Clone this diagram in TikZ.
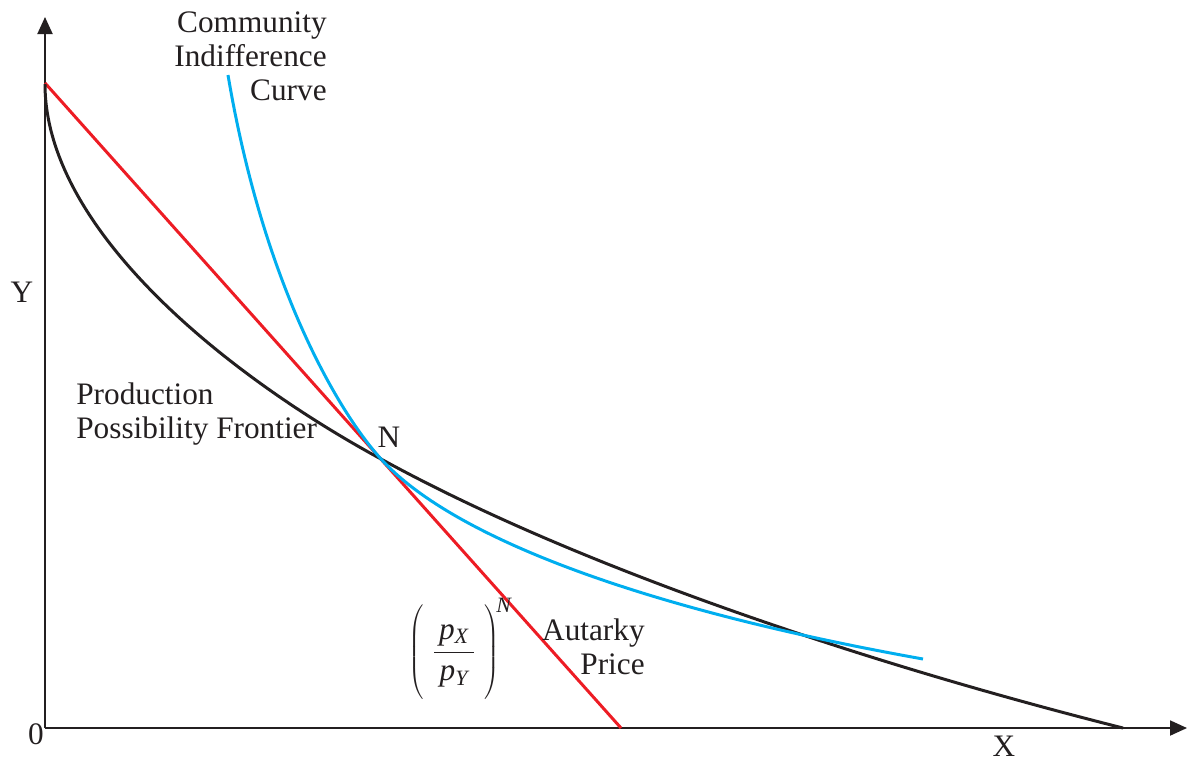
\documentclass[tikz,border=0pt]{standalone}
\usepackage{fontspec}
\setmainfont{Liberation Serif}
\usetikzlibrary{arrows.meta}
\definecolor{axisblack}{RGB}{35,31,32}
\definecolor{pricered}{RGB}{237,28,36}
\definecolor{cicblue}{RGB}{0,174,239}
\begin{document}
\begin{tikzpicture}[x=0.02cm, y=-0.02cm,
    every node/.style={font=\fontsize{17.8}{19.4}\selectfont, text=axisblack, inner sep=0pt},
    axis/.style={line width=1.1pt, draw=axisblack, -{Triangle[length=0.34cm, width=0.3cm]}},
    curve/.style={line width=1.7pt, line join=round}]
    \useasboundingbox (0,0) rectangle (1189,762);
    % axes
    \coordinate (O) at (45,728);
    \coordinate (ytip) at (45,17);
    \coordinate (xtip) at (1187,728);
    \draw[axis] (O) -- (ytip);
    \draw[axis] (O) -- (xtip);
    % autarky price line through N
    \coordinate (N) at (381,459);
    \coordinate (ptop) at (45,83);
    \coordinate (pbot) at (621,728);
    \draw[curve, pricered] (ptop) -- (pbot);
    % production possibility frontier
    \coordinate (ppfa) at (45,84);
    \coordinate (ppfb) at (1123,728);
    \draw[curve, axisblack] (ppfa) .. controls (45,230) and (228,376) .. (N)
        .. controls (581,569) and (873,665) .. (ppfb);
    % community indifference curve
    \coordinate (cica) at (228,75);
    \coordinate (cicb) at (923,659);
    \draw[curve, cicblue] (cica) .. controls (264,288) and (340,414) .. (N)
        .. controls (448,533) and (627,606) .. (cicb);
    % labels
    \node[anchor=north east, align=right] (cic) at (327,11) {Community\\Indifference\\Curve};
    \node[anchor=north west, align=left] (ppf) at (76,382) {Production\\Possibility Frontier};
    \node (nlab) at (389,437) {N};
    \node (ylab) at (22,292) {Y};
    \node (xlab) at (1004,746) {X};
    \node (zero) at (36,734) {0};
    \node[anchor=north east, align=right] (aut) at (645,618) {Autarky\\Price};
    \node (ratio) at (460,649) {$\displaystyle\left(\vrule height 1.1cm depth 0.78cm width 0pt\;
        \frac{\,\mathit{p}_{\mathit{X}}\,}{\,\mathit{p}_{\mathit{Y}}\,}\;\right)^{\!\mathit{N}}$};
\end{tikzpicture}
\end{document}
